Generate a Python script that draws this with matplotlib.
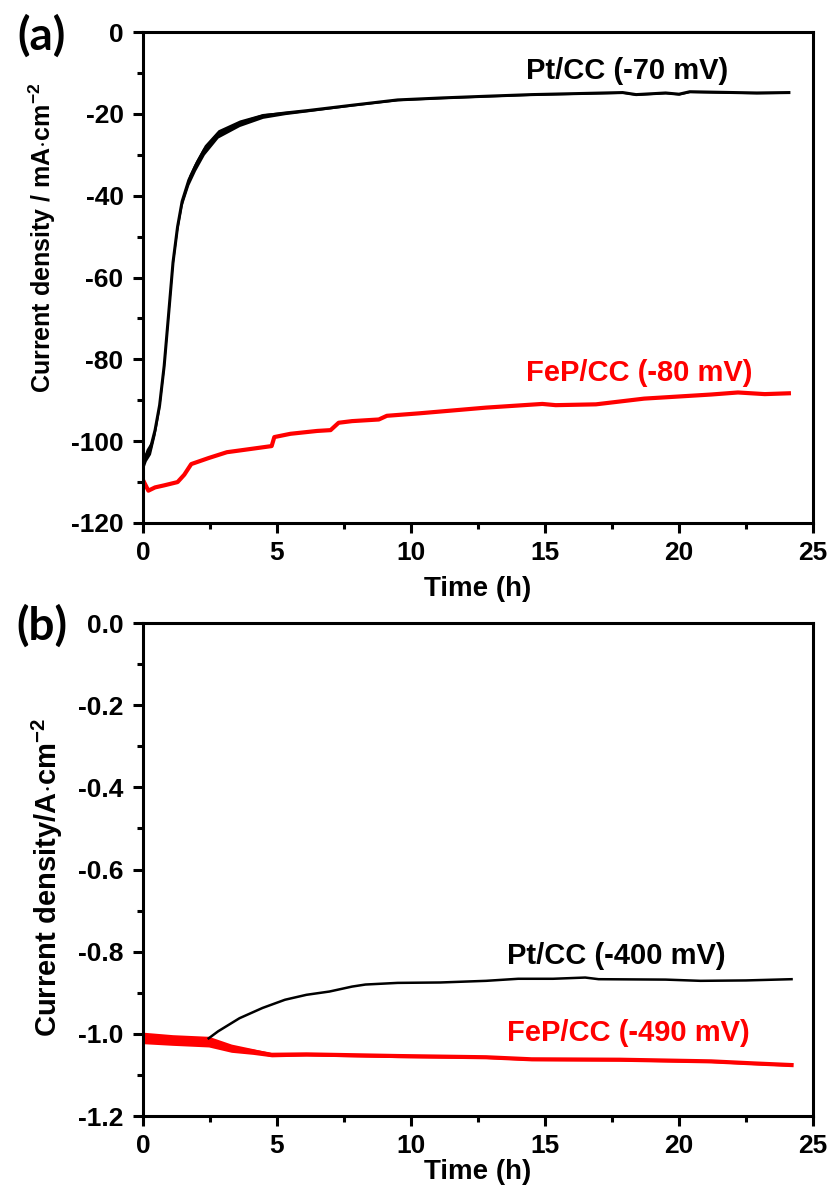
import numpy as np
import matplotlib
matplotlib.use("Agg")
import matplotlib.pyplot as plt
from matplotlib.ticker import MultipleLocator, FormatStrFormatter

plt.rcParams['font.family'] = ['Liberation Sans', 'DejaVu Sans']
plt.rcParams['font.weight'] = 'bold'
plt.rcParams['axes.labelweight'] = 'bold'
plt.rcParams['axes.unicode_minus'] = False
plt.rcParams['mathtext.fontset'] = 'custom'
plt.rcParams['mathtext.bf'] = 'Liberation Sans:bold'
plt.rcParams['mathtext.rm'] = 'Liberation Sans:bold'
plt.rcParams['mathtext.default'] = 'bf'

# (a) Pt/CC at -70 mV
t_pt_a = [0, 0.12, 0.28, 0.45, 0.62, 0.79, 0.95, 1.12, 1.29, 1.46, 1.71, 1.96, 2.29, 2.8,
          3.6, 4.47, 5.3, 6.15, 7.8, 9.5, 11.2, 12.8, 14.5, 17.9, 18.4, 19.5, 20.0, 20.4, 22.9, 24.1]
j_pt_a = [-105.6, -103.4, -101.7, -97.3, -91.2, -81.6, -69.4, -56.3, -47.6, -41.4, -36.2, -32.7,
          -28.8, -24.9, -22.3, -20.5, -19.8, -19.2, -17.9, -16.6, -16.1, -15.7, -15.3, -14.8,
          -15.3, -14.9, -15.2, -14.6, -14.9, -14.8]
# noise half-width of the black trace
s_pt_a = [1.5, 1.5, 1.5, 1.2, 1.0, 1.0, 1.0, 1.0, 1.0, 1.0, 1.2, 1.2, 1.2, 1.0,
          0.8, 0.6, 0.4, 0.3, 0.2, 0.2, 0.2, 0.2, 0.2, 0.2, 0.2, 0.2, 0.2, 0.2, 0.2, 0.2]

# (a) FeP/CC at -80 mV
t_fep_a = [0, 0.2, 0.45, 0.79, 1.29, 1.54, 1.71, 1.8, 2.46, 3.13, 3.8, 4.8, 4.9, 5.5, 6.5, 7.0,
           7.3, 7.8, 8.8, 9.1, 10.3, 12.8, 14.9, 15.4, 16.9, 18.7, 21.2, 22.2, 23.2, 24.1]
j_fep_a = [-109.5, -112.1, -111.3, -110.8, -110.0, -108.2, -106.5, -105.6, -104.1, -102.7,
           -102.1, -101.2, -99.0, -98.2, -97.5, -97.3, -95.5, -95.1, -94.7, -93.8, -93.2,
           -91.8, -90.9, -91.2, -91.0, -89.6, -88.6, -88.1, -88.5, -88.3]

# (b) Pt/CC at -400 mV
t_pt_b = [2.45, 2.8, 3.6, 4.46, 5.3, 6.1, 6.96, 7.8, 8.3, 9.5, 11.1, 12.8, 14.0, 15.3, 16.5,
          17.0, 19.5, 20.8, 22.5, 24.2]
j_pt_b = [-1.011, -0.994, -0.962, -0.937, -0.917, -0.905, -0.897, -0.885, -0.880, -0.876,
          -0.875, -0.871, -0.866, -0.866, -0.863, -0.867, -0.868, -0.871, -0.870, -0.867]

# (b) FeP/CC at -490 mV
t_fep_b = [0, 1.1, 2.45, 3.3, 4.1, 4.8, 6.1, 9.5, 12.8, 14.5, 17.8, 21.2, 22.8, 24.2]
j_fep_b = [-1.010, -1.015, -1.019, -1.035, -1.043, -1.051, -1.050, -1.054, -1.057, -1.062,
           -1.063, -1.067, -1.072, -1.076]
s_fep_b = [0.014, 0.013, 0.013, 0.010, 0.007, 0.005, 0.004, 0.004, 0.003, 0.003, 0.003,
           0.003, 0.003, 0.003]

fig = plt.figure(figsize=(8.34, 11.94), dpi=100)
W, H = 834, 1194
ax1 = fig.add_axes([143 / W, 1 - 523 / H, 670 / W, 491 / H])
ax2 = fig.add_axes([143 / W, 1 - 1116 / H, 670 / W, 493 / H])

ax1.fill_between(t_pt_a, np.array(j_pt_a) - s_pt_a, np.array(j_pt_a) + s_pt_a, color='black', lw=0)
ax1.plot(t_pt_a, j_pt_a, color='black', lw=2.2)
ax1.plot(t_fep_a, j_fep_a, color='#ff0000', lw=3)
ax1.text(14.3, -9.6, 'Pt/CC (-70 mV)', fontsize=21, color='black', ha='left', va='center')
ax1.text(14.3, -83.3, 'FeP/CC (-80 mV)', fontsize=21, color='#ff0000', ha='left', va='center')
ax1.set_xlim(0, 25)
ax1.set_ylim(-120, 0)
ax1.yaxis.set_major_locator(MultipleLocator(20))
ax1.yaxis.set_minor_locator(MultipleLocator(10))

ax2.fill_between(t_fep_b, np.array(j_fep_b) - s_fep_b, np.array(j_fep_b) + s_fep_b, color='#ff0000', lw=0)
ax2.plot(t_fep_b, j_fep_b, color='#ff0000', lw=3)
ax2.plot(t_pt_b, j_pt_b, color='black', lw=1.8)
ax2.text(13.6, -0.811, 'Pt/CC (-400 mV)', fontsize=21, color='black', ha='left', va='center')
ax2.text(13.6, -0.998, 'FeP/CC (-490 mV)', fontsize=21, color='#ff0000', ha='left', va='center')
ax2.set_xlim(0, 25)
ax2.set_ylim(-1.2, 0)
ax2.yaxis.set_major_locator(MultipleLocator(0.2))
ax2.yaxis.set_minor_locator(MultipleLocator(0.1))
ax2.yaxis.set_major_formatter(FormatStrFormatter('%.1f'))

for ax in (ax1, ax2):
    ax.xaxis.set_major_locator(MultipleLocator(5))
    ax.xaxis.set_minor_locator(MultipleLocator(2.5))
    for s in ax.spines.values():
        s.set_linewidth(2.2)
    ax.tick_params(which='major', direction='out', length=7, width=2.2, labelsize=19)
    ax.tick_params(axis='y', which='major', pad=7)
    ax.tick_params(axis='x', which='major', pad=6)
    ax.tick_params(which='minor', direction='out', length=4, width=2.2)
    ax.tick_params(top=False, right=False, which='both')

ax1.set_xlabel('Time (h)', fontsize=20, labelpad=8)
ax2.set_xlabel('Time (h)', fontsize=20, labelpad=1)

fig.text(42 / W, 1 - 238 / H, r'Current density / mA$\cdot$cm$^{-2}$', rotation=90,
         fontsize=18, ha='center', va='center')
fig.text(47 / W, 1 - 877 / H, r'Current density/A$\cdot$cm$^{-2}$', rotation=90,
         fontsize=21, ha='center', va='center')

fig.text(42 / W, 1 - 36 / H, '(a)', fontsize=33, family=['Lato', 'DejaVu Sans'],
         weight='bold', ha='center', va='center')
fig.text(42 / W, 1 - 626 / H, '(b)', fontsize=33, family=['Lato', 'DejaVu Sans'],
         weight='bold', ha='center', va='center')

fig.savefig('out.png', dpi=100)
